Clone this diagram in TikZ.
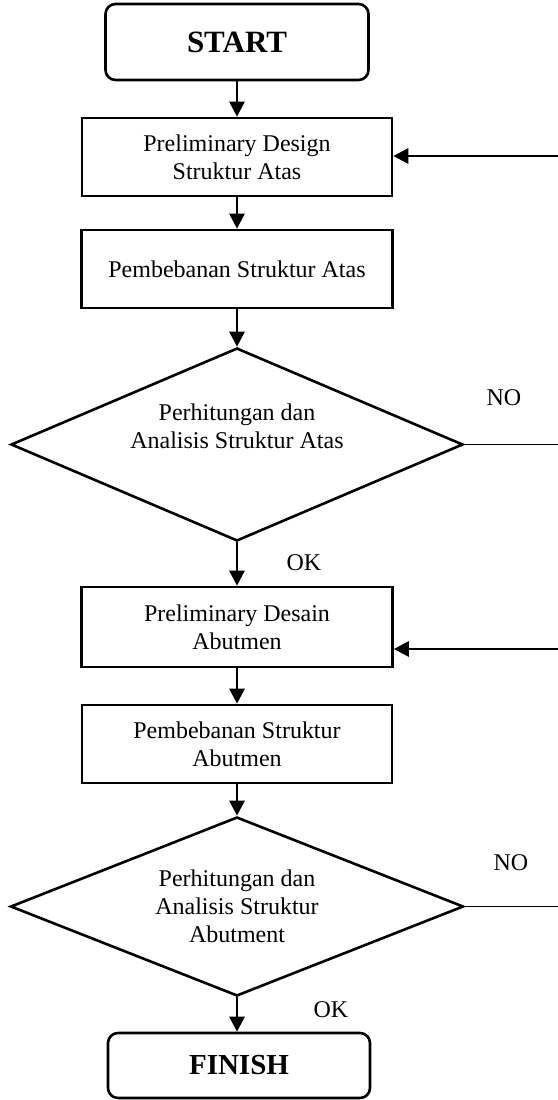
\documentclass[tikz,border=0pt]{standalone}
\usepackage{fontspec}
\setmainfont{Liberation Serif}
\usetikzlibrary{shapes.geometric,arrows.meta}

\begin{document}
\begin{tikzpicture}[x=0.5pt, y=-0.5pt,
        every node/.style={font=\fontsize{12}{14}\selectfont},
        box/.style={draw, line width=1.3pt, align=center, inner sep=0pt},
        ends/.style={box, rounded corners=5pt},
        check/.style={draw, diamond, line width=1.3pt, align=center, inner sep=0pt},
        flow/.style={line width=1.3pt, -{Triangle[length=7.5pt, width=7.5pt]}}]
        
        \useasboundingbox (0,0) rectangle (558,1100);
        
        % upper structure
        \node[ends, minimum width=131.5pt, minimum height=38pt, font=\fontsize{15.5}{18}\selectfont\bfseries] (start) at (237,42) {START};
        \node[box, minimum width=155pt, minimum height=39pt] (pd1) at (237,157) {Preliminary Design\\Struktur Atas};
        \node[box, minimum width=155.5pt, minimum height=39pt] (load1) at (237,269) {Pembebanan Struktur Atas};
        \node[check, aspect=2.34, minimum width=226pt, minimum height=96.5pt] (check1) at (237,444.5) {Perhitungan dan\\Analisis Struktur Atas\\\strut};
        \node (ok1) at (304,563) {OK};
        \node (no1) at (504,398) {NO};
        
        % abutment
        \node[box, minimum width=155.5pt, minimum height=40pt] (pd2) at (237,627) {Preliminary Desain\\Abutmen};
        \node[box, minimum width=155pt, minimum height=39pt] (load2) at (237,744) {Pembebanan Struktur\\Abutmen};
        \node[check, aspect=2.53, minimum width=226.5pt, minimum height=89.5pt] (check2) at (237,906.5) {Perhitungan dan\\Analisis Struktur\\Abutment};
        \node (ok2) at (331,1010) {OK};
        \node (no2) at (511,863) {NO};
        \node[ends, minimum width=131pt, minimum height=32.5pt, font=\fontsize{14.5}{17}\selectfont\bfseries] (finish) at (239,1065.5) {FINISH};
        
        \draw[flow] (start) -- (pd1);
        \draw[flow] (pd1) -- (load1);
        \draw[flow] (load1) -- (check1);
        \draw[flow] (check1) -- (pd2);
        \draw[flow] (pd2) -- (load2);
        \draw[flow] (load2) -- (check2);
        \draw[flow] (check2.south) -- (check2.south |- finish.north);
        
        % NO branches, cut at the right edge
        \coordinate (edge) at (558,0);
        \draw[line width=0.5pt] (check1.east) -- (check1.east -| edge);
        \draw[line width=0.5pt] (check2.east) -- (check2.east -| edge);
        \coordinate (back1) at (558,156);
        \coordinate (back2) at (558,649);
        \draw[flow] (back1) -- (back1 -| pd1.east);
        \draw[flow] (back2) -- (back2 -| pd2.east);
        
    \end{tikzpicture}
\end{document}
